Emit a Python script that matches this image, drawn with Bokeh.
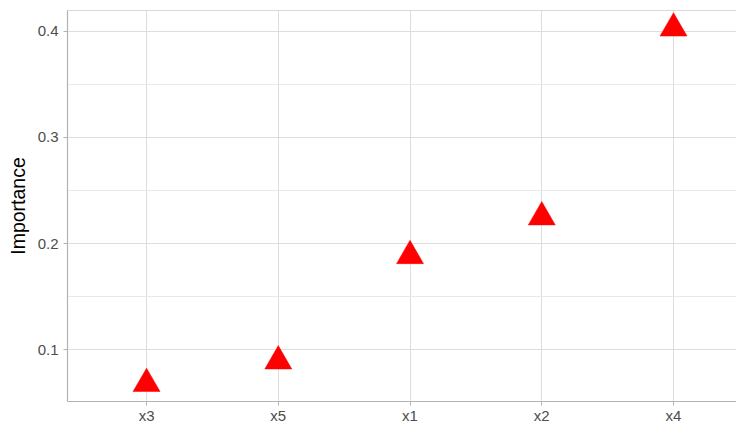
from bokeh.plotting import figure
from bokeh.models import FixedTicker, Span, ColumnDataSource, Range1d
from bokeh.embed import file_html
from bokeh.resources import INLINE

# Data
features = ["x3", "x5", "x1", "x2", "x4"]
importance = [0.068, 0.0892, 0.1884, 0.2249, 0.4027]
positions = [1, 2, 3, 4, 5]

y_major = [0.1, 0.2, 0.3, 0.4]
y_minor = [0.15, 0.25, 0.35]

FONT = "Liberation Sans"

src = ColumnDataSource(dict(x=positions, y=importance, name=features))

ymin, ymax = min(importance), max(importance)
pad = (ymax - ymin) * 0.05
y_start, y_end = ymin - pad, ymax + pad

p = figure(width=736, height=426, output_backend="svg", toolbar_location=None,
           x_range=Range1d(0.4, 5.478), y_range=Range1d(y_start, y_end),
           min_border_left=67, min_border_right=0, min_border_top=10, min_border_bottom=24)

p.scatter("x", "y", source=src, marker="triangle", size=27,
          fill_color="#FF0000", line_color="#FF0000", line_width=0.5)

p.outline_line_color = None
p.background_fill_color = "white"
p.border_fill_color = "white"

# axes
p.xaxis.ticker = FixedTicker(ticks=positions)
p.xaxis.major_label_overrides = {i: f for i, f in zip(positions, features)}
p.yaxis.ticker = FixedTicker(ticks=y_major, minor_ticks=y_minor)
p.yaxis.axis_label = "Importance"

for ax in (p.xaxis[0], p.yaxis[0]):
    ax.axis_line_color = "#B3B3B3"
    ax.axis_line_width = 1.2
    ax.major_tick_line_color = "#B3B3B3"
    ax.major_tick_out = 4
    ax.major_tick_in = 0
    ax.minor_tick_out = 0
    ax.minor_tick_in = 0
    ax.major_label_text_font = FONT
    ax.major_label_text_font_size = "15px"
    ax.major_label_text_color = "#4D4D4D"

p.xaxis.major_label_standoff = 1
p.yaxis.major_label_standoff = 5

p.yaxis.axis_label_text_font = FONT
p.yaxis.axis_label_text_font_size = "19.5px"
p.yaxis.axis_label_text_font_style = "normal"
p.yaxis.axis_label_text_color = "black"
p.yaxis.axis_label_standoff = 6

# grids
p.xgrid.grid_line_color = "#DEDEDE"
p.xgrid.grid_line_width = 1
p.ygrid.grid_line_color = "#DEDEDE"
p.ygrid.grid_line_width = 1
p.ygrid.minor_grid_line_color = "#E8E8E8"
p.ygrid.minor_grid_line_width = 1

# top border of the panel
p.add_layout(Span(location=y_end, dimension="width", line_color="#B3B3B3", line_width=1.2))

open("out.html", "w").write(file_html(p, INLINE))
